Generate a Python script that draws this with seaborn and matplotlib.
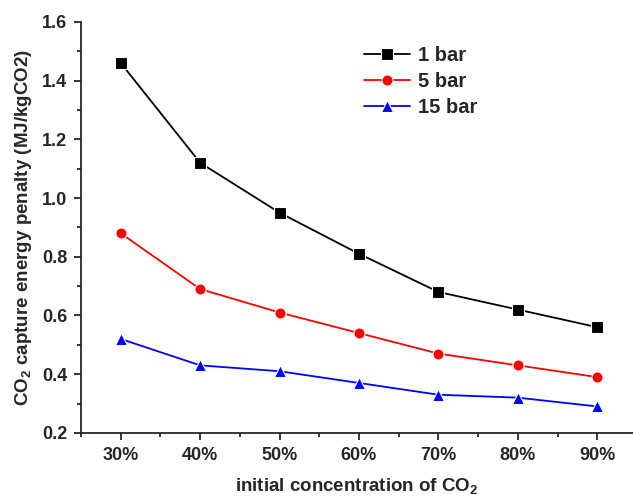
import matplotlib
matplotlib.use("Agg")
import matplotlib.pyplot as plt
from matplotlib.ticker import MultipleLocator, FuncFormatter
import seaborn as sns
import pandas as pd

# Initial CO2 concentration (%) and energy penalty (MJ/kgCO2) at each pressure
concentration = [30, 40, 50, 60, 70, 80, 90]
penalty_1bar = [1.46, 1.12, 0.95, 0.81, 0.68, 0.62, 0.56]
penalty_5bar = [0.88, 0.69, 0.61, 0.54, 0.47, 0.43, 0.39]
penalty_15bar = [0.52, 0.43, 0.41, 0.37, 0.33, 0.32, 0.29]
series_names = ["1 bar", "5 bar", "15 bar"]

df = pd.DataFrame({
    "conc": concentration * 3,
    "penalty": penalty_1bar + penalty_5bar + penalty_15bar,
    "pressure": [n for n in series_names for _ in concentration],
})

sns.set_style("ticks")
plt.rcParams["font.family"] = ["Liberation Sans", "DejaVu Sans"]
plt.rcParams["font.weight"] = "bold"
plt.rcParams["mathtext.fontset"] = "custom"
plt.rcParams["mathtext.rm"] = "Liberation Sans:bold"
plt.rcParams["mathtext.bf"] = "Liberation Sans:bold"

fig = plt.figure(figsize=(6.33, 4.97), dpi=100)
ax = fig.add_axes([0.128, 0.129, 0.872, 0.827])

palette = {"1 bar": "#000000", "5 bar": "#ff0000", "15 bar": "#0000ff"}
markers = {"1 bar": "s", "5 bar": "o", "15 bar": "^"}
sns.lineplot(data=df, x="conc", y="penalty", hue="pressure", style="pressure",
             hue_order=series_names, style_order=series_names,
             palette=palette, markers=markers, dashes=False,
             markersize=8, markeredgewidth=0.8, linewidth=1.3, ax=ax)

ax.set_xlim(25, 94.5)
ax.set_ylim(0.2, 1.6)
ax.xaxis.set_major_locator(MultipleLocator(10))
ax.xaxis.set_minor_locator(MultipleLocator(5))
ax.yaxis.set_major_locator(MultipleLocator(0.2))
ax.yaxis.set_minor_locator(MultipleLocator(0.1))
ax.xaxis.set_major_formatter(FuncFormatter(lambda v, p: f"{int(round(v))}%"))
ax.yaxis.set_major_formatter(FuncFormatter(lambda v, p: f"{v:.1f}"))

for side in ("top", "right"):
    ax.spines[side].set_visible(False)
for side in ("left", "bottom"):
    ax.spines[side].set_linewidth(1.3)
ax.tick_params(which="major", direction="out", length=5, width=1.3,
               labelsize=13, pad=5)
ax.tick_params(which="minor", direction="out", length=3, width=1.3)
for lab in ax.get_xticklabels() + ax.get_yticklabels():
    lab.set_fontweight("bold")

ax.set_xlabel(r"initial concentration of CO$_\mathbf{2}$", fontsize=13.5,
              fontweight="bold", labelpad=9)
ax.set_ylabel(r"CO$_\mathbf{2}$ capture energy penalty (MJ/kgCO2)",
              fontsize=13.5, fontweight="bold", labelpad=6)

leg = ax.legend(title=None, loc="upper left", bbox_to_anchor=(0.48, 0.985),
                frameon=False, fontsize=14.5, handlelength=2.3,
                handletextpad=0.4, labelspacing=0.35)
for t in leg.get_texts():
    t.set_fontweight("bold")

fig.savefig("out.png", dpi=100)
